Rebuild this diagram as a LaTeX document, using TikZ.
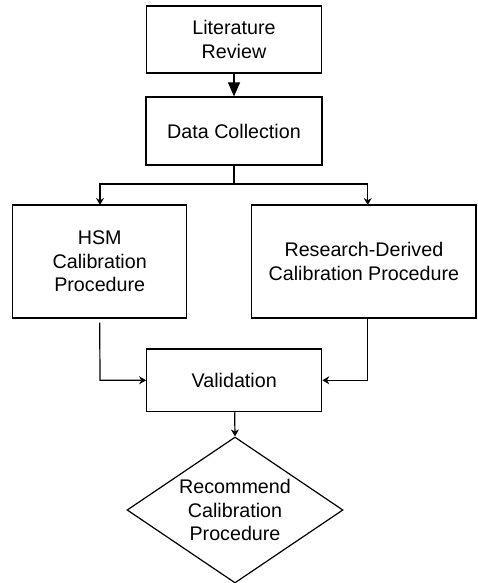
\documentclass[tikz,border=0pt]{standalone}
\usepackage{fontspec}
\setmainfont{Liberation Sans}
\usetikzlibrary{shapes.geometric,arrows.meta}
\begin{document}
\begin{tikzpicture}[x=1pt,y=-1pt,
  line width=1.2pt,
  every node/.style={font=\fontsize{19.7pt}{23.7pt}\selectfont, align=center, inner sep=0pt},
  stepbox/.style={draw, rectangle, minimum width=#1},
  flow/.style={-{Stealth[length=7pt,width=8pt]}},
  bigflow/.style={-{Triangle[length=14pt,width=12pt]}}]
\useasboundingbox (0,0) rectangle (477,583);

\node[stepbox=175.7pt, minimum height=67pt] (lit) at (234,39.5) {Literature\\Review};
\node[stepbox=176pt, minimum height=68pt] (data) at (234,131) {Data Collection};
\node[stepbox=174pt, minimum height=113pt] (hsm) at (99.7,261.5) {HSM\\Calibration\\Procedure};
\node[stepbox=224.3pt, minimum height=113pt] (res) at (363.9,261.5) {Research-Derived\\Calibration Procedure};
\node[stepbox=175pt, minimum height=62.7pt] (val) at (234.2,380.3) {Validation};
\node[draw, diamond, aspect=1.48, minimum width=216pt, minimum height=146pt] (rec) at (235,510) {Recommend\\Calibration\\Procedure};

% branch points below Data Collection
\coordinate (split) at (234,184);
\coordinate (splitL) at (100,184);
\coordinate (splitR) at (367.7,184);
\coordinate (hsmIn) at (100,205);
\coordinate (resIn) at (367.7,205);
\coordinate (resOut) at (367.7,318);
\coordinate (joinL) at (100,380.3);
\coordinate (joinR) at (367.7,380.3);

\draw[bigflow] (lit) -- (data);
\draw (data) -- (split);
\draw[flow] (split) -- (splitL) -- (hsmIn);
\draw[flow] (split) -- (splitR) -- (resIn);
\draw[flow, shorten <=4pt] (hsm.south) -- (joinL) -- (val.west);
\draw[flow] (resOut) -- (joinR) -- (val.east);
\draw[flow] (val) -- (rec.north);
\end{tikzpicture}
\end{document}
